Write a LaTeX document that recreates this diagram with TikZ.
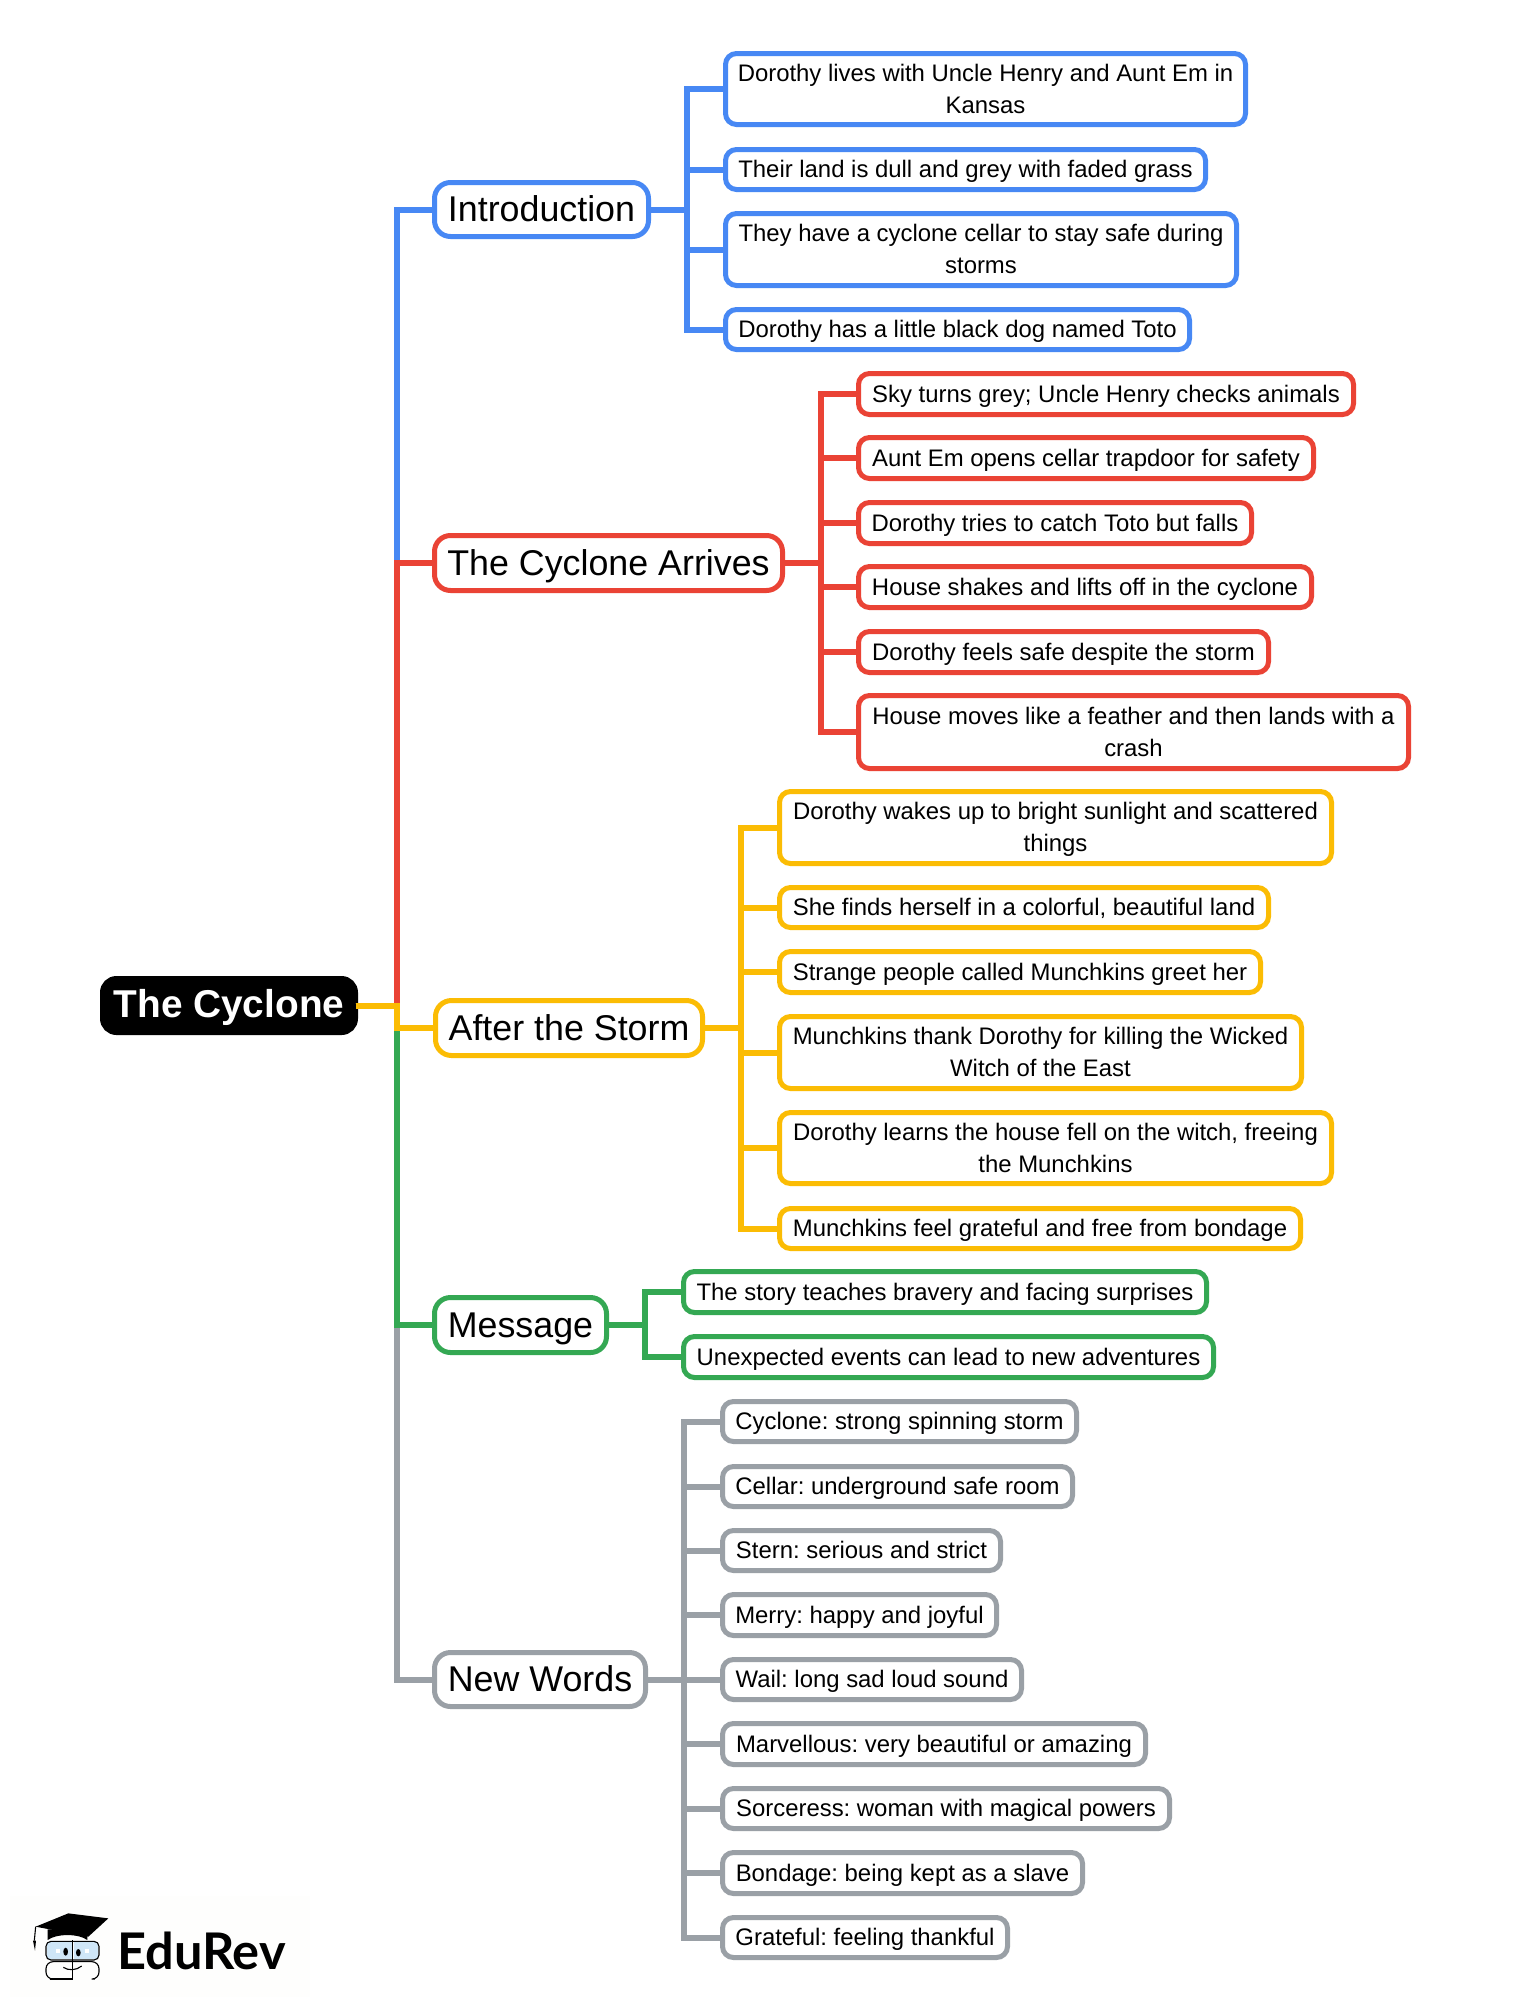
\documentclass[tikz,border=0pt]{standalone}
\usepackage{fontspec}
\setmainfont{Liberation Sans}
\newfontfamily\logofont{Lato}
\frenchspacing
\definecolor{cblue}{HTML}{4788F4}
\definecolor{cred}{HTML}{EA4335}
\definecolor{cyel}{HTML}{FBBC04}
\definecolor{cgrn}{HTML}{34A853}
\definecolor{cgry}{HTML}{9AA0A6}
\definecolor{lens}{HTML}{CFE6F7}
\definecolor{logobg}{HTML}{FEFEFD}
\newcommand\lst{\rule{0pt}{21.5pt}\rule[-5pt]{0pt}{5pt}}
\newcommand\hst{\rule{0pt}{32.5pt}\rule[-8pt]{0pt}{8pt}}
\newcommand\rst{\rule{0pt}{32pt}\rule[-9pt]{0pt}{9pt}}
% name, style, x1, y1, x2, y2 (outer edges), text
\newcommand\bx[7]{%
  \pgfmathsetmacro\bw{#5-#3-5}\pgfmathsetmacro\bh{#6-#4-5}%
  \node[#2,minimum width=\bw pt,minimum height=\bh pt] (#1) at ({(#3+#5)/2},{(#4+#6)/2}) {#7};}
\tikzset{
  leaf/.style={draw=#1,fill=white,line width=5pt,rounded corners=11pt,inner sep=0pt,outer sep=0pt,
    align=center,font=\fontsize{23.9}{32}\selectfont,text=black},
  head/.style={draw=#1,fill=white,line width=5pt,rounded corners=16pt,inner sep=0pt,outer sep=0pt,
    align=center,font=\fontsize{35.8}{44}\selectfont,text=black},
  rootbox/.style={draw=black,fill=black,line width=5pt,rounded corners=14pt,inner sep=0pt,outer sep=0pt,
    align=center,font=\fontsize{38.8}{44}\selectfont\bfseries,text=white},
  con/.style={draw=#1,line width=6pt,line join=miter,line cap=butt},
  logoline/.style={draw=black,line width=1.1pt,line join=round}
}
\begin{document}
\begin{tikzpicture}[x=1pt,y=-1pt]
\useasboundingbox (0,0) rectangle (1513,2011);
\fill[white] (0,0) rectangle (1513,2011);

% logo
\fill[logobg] (10,1896) rectangle (310,1997);
\begin{scope}[shift={(0,1880)},x=0.33333pt,y=-0.33333pt]
  \fill[lens] (140,186) rectangle (215,238);
  \fill[lens] (221,186) rectangle (295,238);
  \fill[black] (143,148) -- (143,180) .. controls (170,160) and (235,160) .. (262,180) -- (262,150) -- cycle;
  \fill[black] (107,140) -- (205,100) -- (325,115) -- (265,170) -- cycle;
  \draw[logoline] (107,140) -- (103,182);
  \fill[black] (99,182) -- (108,182) -- (105,212) -- cycle;
  \draw[logoline] (218,180) -- (218,297);
  \draw[logoline,rounded corners=5pt] (218,184) -- (138,184) -- (138,240) -- (218,240);
  \draw[logoline,rounded corners=5pt] (218,184) -- (297,184) -- (297,240) -- (218,240);
  \draw[logoline,rounded corners=7pt] (150,297) -- (138,297) -- (138,245) -- (218,245);
  \draw[logoline,rounded corners=7pt] (285,297) -- (297,297) -- (297,245) -- (218,245);
  \draw[logoline] (150,297) -- (218,297);
  \fill[black] (197,215) ellipse (7 and 12);
  \fill[black] (235,218) ellipse (7 and 11);
  \fill[white] (169,208) rectangle (179,218);
  \fill[white] (256,208) rectangle (266,218);
  \draw[logoline] (190,262) .. controls (205,272) and (228,272) .. (245,258);
\end{scope}
\node[inner sep=0pt,anchor=base west,font=\logofont\bfseries\fontsize{50.5}{52}\selectfont,text=black] (logo) at (117,1969) {EduRev};

% root and headings
\bx{root}{rootbox}{100}{976}{358}{1035}{\rst The Cyclone}
\bx{intro}{head=cblue}{432}{180}{651}{239}{\hst Introduction}
\bx{arr}{head=cred}{432}{533}{785}{593}{\hst The Cyclone Arrives}
\bx{after}{head=cyel}{433}{998}{705}{1058}{\hst After the Storm}
\bx{msg}{head=cgrn}{432}{1295}{609}{1355}{\hst Message}
\bx{nw}{head=cgry}{432}{1650}{648}{1709}{\hst New Words}

% leaves
\bx{a1}{leaf=cblue}{723}{51}{1248}{127}{\lst Dorothy lives with Uncle Henry and Aunt Em in\\\lst Kansas}
\bx{a2}{leaf=cblue}{723}{147}{1208}{192}{\lst Their land is dull and grey with faded grass}
\bx{a3}{leaf=cblue}{723}{211}{1239}{288}{\lst They have a cyclone cellar to stay safe during\\\lst storms}
\bx{a4}{leaf=cblue}{723}{307}{1192}{352}{\lst Dorothy has a little black dog named Toto}

\bx{b1}{leaf=cred}{856}{371}{1356}{417}{\lst Sky turns grey; Uncle Henry checks animals}
\bx{b2}{leaf=cred}{856}{435}{1316}{481}{\lst Aunt Em opens cellar trapdoor for safety}
\bx{b3}{leaf=cred}{856}{500}{1254}{546}{\lst Dorothy tries to catch Toto but falls}
\bx{b4}{leaf=cred}{856}{564}{1314}{610}{\lst House shakes and lifts off in the cyclone}
\bx{b5}{leaf=cred}{856}{629}{1271}{675}{\lst Dorothy feels safe despite the storm}
\bx{b6}{leaf=cred}{856}{693}{1411}{771}{\lst House moves like a feather and then lands with a\\\lst crash}

\bx{c1}{leaf=cyel}{777}{789}{1334}{866}{\lst Dorothy wakes up to bright sunlight and scattered\\\lst things}
\bx{c2}{leaf=cyel}{777}{885}{1271}{930}{\lst She finds herself in a colorful, beautiful land}
\bx{c3}{leaf=cyel}{777}{949}{1263}{995}{\lst Strange people called Munchkins greet her}
\bx{c4}{leaf=cyel}{777}{1014}{1304}{1091}{\lst Munchkins thank Dorothy for killing the Wicked\\\lst Witch of the East}
\bx{c5}{leaf=cyel}{777}{1110}{1334}{1186}{\lst Dorothy learns the house fell on the witch, freeing\\\lst the Munchkins}
\bx{c6}{leaf=cyel}{777}{1206}{1303}{1251}{\lst Munchkins feel grateful and free from bondage}

\bx{d1}{leaf=cgrn}{681}{1269}{1209}{1315}{\lst The story teaches bravery and facing surprises}
\bx{d2}{leaf=cgrn}{681}{1334}{1216}{1380}{\lst Unexpected events can lead to new adventures}

\bx{e1}{leaf=cgry}{720}{1399}{1079}{1444}{\lst Cyclone: strong spinning storm}
\bx{e2}{leaf=cgry}{720}{1464}{1075}{1509}{\lst Cellar: underground safe room}
\bx{e3}{leaf=cgry}{720}{1528}{1003}{1573}{\lst Stern: serious and strict}
\bx{e4}{leaf=cgry}{720}{1592}{999}{1638}{\lst Merry: happy and joyful}
\bx{e5}{leaf=cgry}{720}{1657}{1024}{1702}{\lst Wail: long sad loud sound}
\bx{e6}{leaf=cgry}{720}{1721}{1148}{1767}{\lst Marvellous: very beautiful or amazing}
\bx{e7}{leaf=cgry}{720}{1786}{1172}{1831}{\lst Sorceress: woman with magical powers}
\bx{e8}{leaf=cgry}{720}{1850}{1085}{1896}{\lst Bondage: being kept as a slave}
\bx{e9}{leaf=cgry}{720}{1915}{1010}{1960}{\lst Grateful: feeling thankful}

% bus positions
\coordinate (tr) at (396.5,0);
\coordinate (bA) at (687,0);
\coordinate (bB) at (820.5,0);
\coordinate (bC) at (740.5,0);
\coordinate (bD) at (645,0);
\coordinate (bE) at (684,0);

% connectors
\draw[con=cgry] (root.east) -- (root.east -| tr) |- (nw.west);
\draw[con=cgrn] (root.east) -- (root.east -| tr) |- (msg.west);
\draw[con=cblue] (root.east) -- (root.east -| tr) |- (intro.west);
\draw[con=cred] (root.east) -- (root.east -| tr) |- (arr.west);
\draw[con=cyel] (root.east) -- (root.east -| tr) |- (after.west);

\foreach \n in {a1,a2,a3,a4} \draw[con=cblue] (intro.east) -- (intro.east -| bA) |- (\n.west);
\foreach \n in {b1,b2,b3,b4,b5,b6} \draw[con=cred] (arr.east) -- (arr.east -| bB) |- (\n.west);
\foreach \n in {c1,c2,c3,c4,c5,c6} \draw[con=cyel] (after.east) -- (after.east -| bC) |- (\n.west);
\foreach \n in {d1,d2} \draw[con=cgrn] (msg.east) -- (msg.east -| bD) |- (\n.west);
\foreach \n in {e1,e2,e3,e4,e5,e6,e7,e8,e9} \draw[con=cgry] (nw.east) -- (nw.east -| bE) |- (\n.west);
\end{tikzpicture}
\end{document}
